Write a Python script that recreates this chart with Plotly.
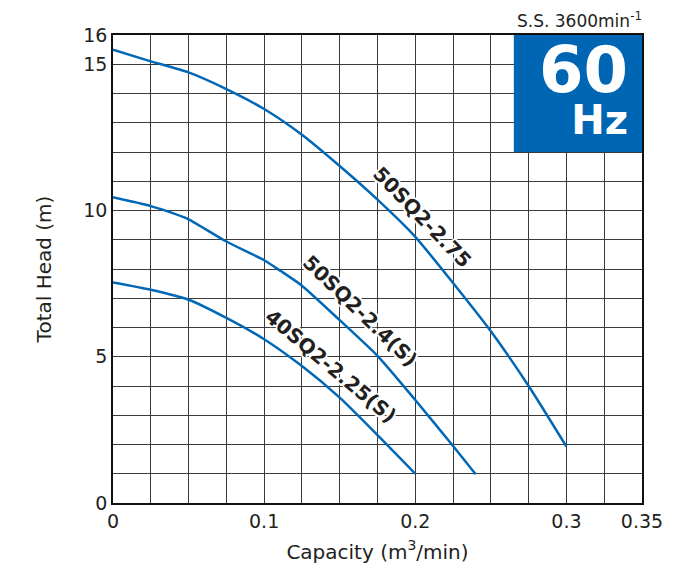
import plotly.graph_objects as go

# Data
q_275 = [0, 0.025, 0.05, 0.075, 0.1, 0.125, 0.15, 0.175, 0.2, 0.225, 0.25, 0.275, 0.3]
h_275 = [15.5, 15.1, 14.72, 14.15, 13.47, 12.59, 11.52, 10.37, 9.1, 7.52, 5.87, 4.0, 1.93]

q_24 = [0, 0.025, 0.04, 0.05, 0.075, 0.1, 0.111, 0.125, 0.15, 0.175, 0.2, 0.225, 0.24]
h_24 = [10.45, 10.15, 9.9, 9.7, 8.94, 8.3, 7.93, 7.43, 6.25, 5.03, 3.52, 1.95, 0.98]

q_225 = [0, 0.025, 0.05, 0.075, 0.1, 0.125, 0.15, 0.175, 0.2]
h_225 = [7.54, 7.29, 6.95, 6.33, 5.6, 4.68, 3.6, 2.32, 1.0]

curve_names = ["50SQ2-2.75", "50SQ2-2.4(S)", "40SQ2-2.25(S)"]

x_tickvals = [0, 0.1, 0.2, 0.3, 0.35]
x_ticktext = ["0", "0.1", "0.2", "0.3", "0.35"]
y_tickvals = [0, 5, 10, 15, 16]
y_ticktext = ["0", "5", "10", "15", "16"]

# label anchor positions (data coords) and angles
label_x = [0.2045, 0.1635, 0.1440]
label_y = [9.78, 6.55, 4.68]
label_angle = [46, 44, 40]

LINE_COLOR = "#0068B7"
GRID = "#3a3a3a"
FONT = "DejaVu Sans"

# target plot area in page pixels (page body has an 8px margin)
PX0, PX1, PY0, PY1 = 113, 642, 35, 503
OFF = 8


def px(x):
    return (x - PX0) / (PX1 - PX0)


def py(y):
    return (PY1 - y) / (PY1 - PY0)


fig = go.Figure()
for q, h, name in zip([q_275, q_24, q_225], [h_275, h_24, h_225], curve_names):
    fig.add_trace(go.Scatter(
        x=q, y=h, mode="lines", name=name,
        line=dict(color=LINE_COLOR, width=2.5, shape="spline", smoothing=0.6),
        showlegend=False, hoverinfo="skip",
    ))

halo = ("1px 1px 0 #fff, -1px -1px 0 #fff, 1px -1px 0 #fff, -1px 1px 0 #fff, "
        "2px 0 0 #fff, -2px 0 0 #fff, 0 2px 0 #fff, 0 -2px 0 #fff")
for name, lx, ly, ang in zip(curve_names, label_x, label_y, label_angle):
    fig.add_annotation(
        x=lx, y=ly, xref="x", yref="y", text=f"<b>{name}</b>",
        showarrow=False, textangle=ang,
        font=dict(family=FONT, size=20, color="#231f20", shadow=halo),
    )

# 60 Hz box
fig.add_shape(type="rect", xref="x", yref="y", x0=0.2652, x1=0.35, y0=12, y1=16,
              fillcolor="#0066B3", line=dict(width=0), layer="above")
fig.add_annotation(
    xref="paper", yref="paper", x=px(630), y=py(88),
    text="<b><span style='font-size:64px'>60</span><br>"
         "<span style='font-size:40px'>Hz</span></b>",
    showarrow=False, xanchor="right", yanchor="middle", align="right",
    font=dict(family=FONT, size=32, color="white"),
)
fig.add_annotation(xref="paper", yref="paper", x=px(643), y=py(20),
                   text="S.S. 3600min<sup>-1</sup>", showarrow=False, xanchor="right",
                   yanchor="middle", borderpad=0,
                   font=dict(family=FONT, size=17, color="#231f20"))

W, H = 691 - OFF, 570 - OFF
fig.update_layout(
    width=W, height=H,
    margin=dict(l=PX0 - OFF, r=W - (PX1 - OFF), t=PY0 - OFF, b=H - (PY1 - OFF), autoexpand=False),
    paper_bgcolor="white", plot_bgcolor="white",
    font=dict(family=FONT, size=19, color="#231f20"),
    xaxis=dict(
        range=[0, 0.35], tickvals=x_tickvals, ticktext=x_ticktext,
        showgrid=True, gridcolor=GRID, gridwidth=1,
        minor=dict(dtick=0.025, tick0=0, showgrid=True, gridcolor=GRID, gridwidth=1),
        showline=True, linecolor="#111", linewidth=1.5, mirror=True,
        ticks="", zeroline=False,
        title=dict(text="Capacity (m<sup>3</sup>/min)", font=dict(size=20), standoff=14),
        fixedrange=True,
    ),
    yaxis=dict(
        range=[0, 16], tickvals=y_tickvals, ticktext=y_ticktext,
        showgrid=True, gridcolor=GRID, gridwidth=1,
        minor=dict(dtick=1, tick0=0, showgrid=True, gridcolor=GRID, gridwidth=1),
        showline=True, linecolor="#111", linewidth=1.5, mirror=True,
        ticks="", zeroline=False,
        title=dict(text="Total Head (m)", font=dict(size=20), standoff=26),
        fixedrange=True,
    ),
)

fig.write_html("out.html")
